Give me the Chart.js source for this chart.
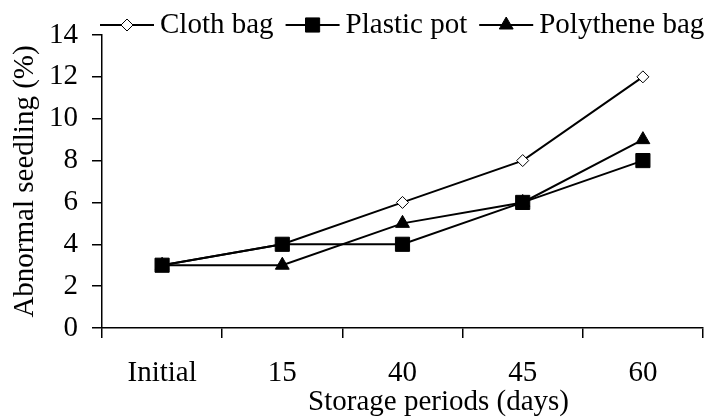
<!DOCTYPE html>
<html>
<head>
<meta charset="utf-8">
<script src="https://cdn.jsdelivr.net/npm/chart.js@4.4.0/dist/chart.umd.min.js"></script>
<style>
    html, body { margin: 0; padding: 0; background: #fff; }
</style>
</head>
<body>
<canvas id="seedlingChart" width="714" height="419"></canvas>
<script>
// Данные графика
const periods = ['Initial', '15', '40', '45', '60'];
const clothBag = [3, 4, 6, 8, 12];
const plasticPot = [3, 4, 4, 6, 8];
const polytheneBag = [3, 3, 5, 6, 9];
const yTicks = [0, 2, 4, 6, 8, 10, 12, 14];
const xTitle = 'Storage periods (days)';
const yTitle = 'Abnormal seedling (%)';

const FONT = '"Liberation Serif", "Times New Roman", serif';
const FONT_SIZE = 29;

// Легенда: линия + маркер + подпись
const lineLegend = {
    id: 'lineLegend',
    afterDraw(chart) {
        const ctx = chart.ctx;
        const area = chart.chartArea;
        let x = area.left - 2;
        const y = 25;
        ctx.save();
        ctx.font = FONT_SIZE + 'px ' + FONT;
        ctx.textBaseline = 'middle';
        chart.data.datasets.forEach(ds => {
            ctx.strokeStyle = '#000';
            ctx.lineWidth = 2;
            ctx.beginPath();
            ctx.moveTo(x, y);
            ctx.lineTo(x + 54, y);
            ctx.stroke();
            ctx.fillStyle = ds.pointBackgroundColor;
            ctx.lineWidth = 1;
            Chart.helpers.drawPoint(ctx, {
                pointStyle: ds.pointStyle,
                radius: ds.pointRadius,
                borderWidth: 1,
                rotation: 0
            }, x + 27, y);
            ctx.fillStyle = '#000';
            ctx.fillText(ds.label, x + 60, y);
            x += 60 + ctx.measureText(ds.label).width + 12;
        });

        // Подпись оси X (смещена вправо, как в оригинале)
        ctx.textAlign = 'center';
        ctx.fillText(xTitle, area.left + area.width * 0.56, 402);
        ctx.restore();
    }
};

// Общий стиль линий
function series(label, data, style, radius, fill, order) {
    return {
        label: label,
        data: data,
        borderColor: '#000',
        borderWidth: 2,
        pointStyle: style,
        pointRadius: radius,
        pointHoverRadius: radius,
        pointBackgroundColor: fill,
        pointBorderColor: '#000',
        pointBorderWidth: 1,
        tension: 0,
        fill: false,
        order: order
    };
}

const tickFont = { family: FONT, size: FONT_SIZE };

new Chart(document.getElementById('seedlingChart'), {
    type: 'line',
    data: {
        labels: periods,
        datasets: [
            series('Cloth bag', clothBag, 'rectRot', 6, '#fff', 2),
            series('Plastic pot', plasticPot, 'rect', 10, '#000', 0),
            series('Polythene bag', polytheneBag, 'triangle', 8, '#000', 1)
        ]
    },
    options: {
        responsive: false,
        devicePixelRatio: 1,
        animation: false,
        layout: { padding: { left: 4, right: 8, top: 35, bottom: 2 } },
        plugins: {
            legend: { display: false },
            tooltip: { enabled: false }
        },
        scales: {
            x: {
                offset: true,
                grid: {
                    offset: true,
                    drawOnChartArea: false,
                    tickLength: 10,
                    color: '#000',
                    lineWidth: 1.5
                },
                border: { color: '#000', width: 1.5 },
                ticks: {
                    color: '#000',
                    font: tickFont,
                    padding: 18,
                    maxRotation: 0,
                    autoSkip: false
                },
                afterFit(scale) { scale.height = 89; }
            },
            y: {
                min: 0,
                max: 14,
                afterBuildTicks(scale) {
                    scale.ticks = yTicks.map(v => ({ value: v }));
                },
                grid: {
                    drawOnChartArea: false,
                    tickLength: 10,
                    color: '#000',
                    lineWidth: 1.5
                },
                border: { color: '#000', width: 1.5 },
                ticks: {
                    color: '#000',
                    font: tickFont,
                    padding: 14
                },
                title: {
                    display: true,
                    text: yTitle,
                    color: '#000',
                    font: { family: FONT, size: FONT_SIZE, lineHeight: 1.2 },
                    padding: { top: 4, bottom: 4 }
                },
                afterFit(scale) { scale.width = 98; }
            }
        }
    },
    plugins: [lineLegend]
});
</script>
</body>
</html>
